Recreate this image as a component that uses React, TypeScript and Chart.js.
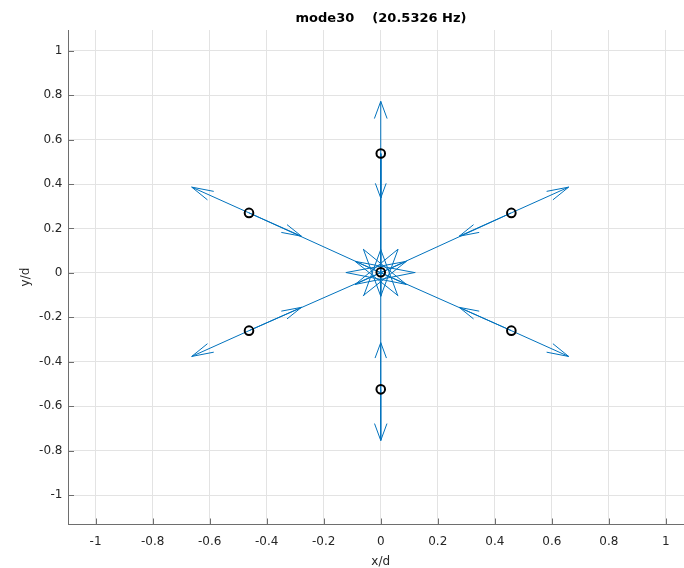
import React, { useEffect, useRef } from 'react';
import { Chart, registerables } from 'chart.js';

Chart.register(...registerables);

// ---- data ----
const titleText = 'mode30    (20.5326 Hz)';
const xLabel = 'x/d';
const yLabel = 'y/d';
const xTicks = [-1, -0.8, -0.6, -0.4, -0.2, 0, 0.2, 0.4, 0.6, 0.8, 1];
const yTicks = [-1, -0.8, -0.6, -0.4, -0.2, 0, 0.2, 0.4, 0.6, 0.8, 1];

// nodes (open circles)
const nodeX = [0, 0, 0.458, 0.458, 0, -0.462, -0.462];
const nodeY = [0.003, 0.537, 0.27, -0.26, -0.524, -0.26, 0.27];

// arrows attached to the outer nodes (nodeX/nodeY index 1..6)
const outU = [0, 0.201, 0.201, 0, -0.201, -0.201];
const outV = [0.235, 0.116, -0.116, -0.23, -0.116, 0.116];
const inU = [0, -0.183, -0.183, 0, 0.184, 0.184];
const inV = [-0.2, -0.105, 0.105, 0.21, 0.105, -0.105];
// tips of the long arrows crossing the centre
const crossTipX = [0, -0.09, -0.09, 0, 0.09, 0.09];
const crossTipY = [-0.105, -0.052, 0.052, 0.105, 0.052, -0.052];

const HEAD_LEN = 0.33;
const HEAD_HALF = 0.095;

type P = { x: number; y: number };
const GAP: P = { x: NaN, y: NaN };

function arrow(x0: number, y0: number, u: number, v: number): P[] {
  const tx = x0 + u;
  const ty = y0 + v;
  const bx = tx - HEAD_LEN * u;
  const by = ty - HEAD_LEN * v;
  return [
    { x: x0, y: y0 },
    { x: tx, y: ty },
    GAP,
    { x: bx - HEAD_HALF * v, y: by + HEAD_HALF * u },
    { x: tx, y: ty },
    { x: bx + HEAD_HALF * v, y: by - HEAD_HALF * u },
    GAP,
  ];
}

function buildLines(): P[] {
  const pts: P[] = [];
  for (let i = 0; i < outU.length; i++) {
    const x0 = nodeX[i + 1];
    const y0 = nodeY[i + 1];
    pts.push(...arrow(x0, y0, outU[i], outV[i]));
    pts.push(...arrow(x0, y0, inU[i], inV[i]));
    pts.push(...arrow(x0, y0, crossTipX[i] - x0, crossTipY[i] - y0));
  }
  return pts;
}

const AXIS_COLOR = '#6e6e6e';
const TEXT_COLOR = '#262626';
const GRID_COLOR = '#e3e3e3';
const FONT = 'DejaVu Sans';

const innerTicks = {
  id: 'innerTicks',
  beforeDatasetsDraw(chart: any) {
    const { ctx, chartArea, scales } = chart;
    ctx.save();
    ctx.strokeStyle = AXIS_COLOR;
    ctx.lineWidth = 1;
    ctx.beginPath();
    xTicks.forEach((v) => {
      const px = Math.round(scales.x.getPixelForValue(v)) + 0.5;
      ctx.moveTo(px, chartArea.bottom);
      ctx.lineTo(px, chartArea.bottom - 5.5);
    });
    yTicks.forEach((v) => {
      const py = Math.round(scales.y.getPixelForValue(v)) + 0.5;
      ctx.moveTo(chartArea.left, py);
      ctx.lineTo(chartArea.left + 5.5, py);
    });
    ctx.stroke();
    ctx.restore();
  },
};

export default function App() {
  const ref = useRef<HTMLCanvasElement>(null);
  useEffect(() => {
    const nodes = nodeX.map((x, i) => ({ x, y: nodeY[i] }));
    const chart = new Chart(ref.current as HTMLCanvasElement, {
      type: 'scatter',
      data: {
        datasets: [
          {
            label: 'nodes',
            data: nodes,
            showLine: false,
            pointRadius: 4.3,
            pointHoverRadius: 4.3,
            pointBorderWidth: 2,
            pointBorderColor: '#000000',
            pointBackgroundColor: 'rgba(0,0,0,0)',
            order: 0,
          },
          {
            label: 'arrows',
            data: buildLines(),
            showLine: true,
            spanGaps: false,
            borderColor: '#0072BD',
            borderWidth: 1,
            pointRadius: 0,
            pointHoverRadius: 0,
            order: 1,
          },
        ],
      },
      options: {
        animation: false,
        responsive: false,
        devicePixelRatio: 1,
        layout: { padding: 0 },
        plugins: {
          legend: { display: false },
          tooltip: { enabled: false },
          title: {
            display: true,
            text: titleText,
            color: '#000000',
            font: { family: FONT, size: 13, weight: 'bold' },
            padding: { top: 11, bottom: 3.4 },
          },
        },
        scales: {
          x: {
            type: 'linear',
            position: 'bottom',
            min: -1.095,
            max: 1.095,
            afterBuildTicks: (s: any) => {
              s.ticks = xTicks.map((v) => ({ value: v }));
            },
            afterFit: (s: any) => {
              s.height = 44;
            },
            ticks: {
              color: TEXT_COLOR,
              font: { family: FONT, size: 12 },
              padding: 11,
              maxRotation: 0,
              autoSkip: false,
              callback: (v: any) => String(v),
            },
            grid: { color: GRID_COLOR, drawTicks: false, lineWidth: 1 },
            border: { display: true, color: AXIS_COLOR, width: 1 },
            title: {
              display: true,
              text: xLabel,
              color: TEXT_COLOR,
              font: { family: FONT, size: 12 },
              padding: { top: 0, bottom: -1.5 },
            },
          },
          y: {
            type: 'linear',
            position: 'left',
            min: -1.13,
            max: 1.093,
            afterBuildTicks: (s: any) => {
              s.ticks = yTicks.map((v) => ({ value: v }));
            },
            afterFit: (s: any) => {
              s.width = 68.5;
            },
            ticks: {
              color: TEXT_COLOR,
              font: { family: FONT, size: 12 },
              padding: 6,
              autoSkip: false,
              callback: (v: any) => String(v),
            },
            grid: { color: GRID_COLOR, drawTicks: false, lineWidth: 1 },
            border: { display: true, color: AXIS_COLOR, width: 1 },
            title: {
              display: true,
              text: yLabel,
              color: TEXT_COLOR,
              font: { family: FONT, size: 12 },
              padding: { top: 19, bottom: 0 },
            },
          },
          y2: {
            type: 'linear',
            position: 'right',
            display: true,
            afterFit: (s: any) => {
              s.width = 69;
            },
            ticks: { display: false },
            grid: { display: false, drawTicks: false },
            border: { display: false },
          },
        },
      },
      plugins: [innerTicks],
    } as any);
    return () => chart.destroy();
  }, []);

  return (
    <div
      style={{
        position: 'fixed',
        left: 0,
        top: 0,
        width: 684,
        height: 568,
        overflow: 'hidden',
        background: '#ffffff',
      }}
    >
      <canvas ref={ref} width={762} height={568} style={{ display: 'block', width: 762, height: 568 }} />
    </div>
  );
}
